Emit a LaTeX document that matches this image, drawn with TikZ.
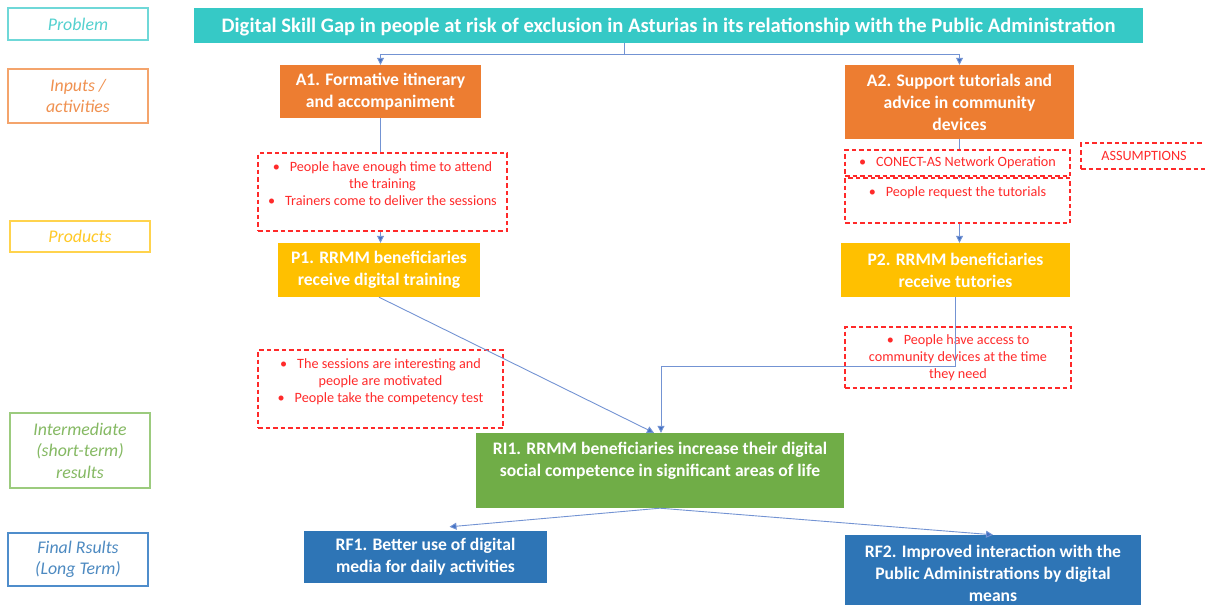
\documentclass[tikz,border=0pt]{standalone}
\usepackage{fontspec}
\setmainfont{Carlito}
\usepackage{xcolor}
\usepackage{tikz}
\usetikzlibrary{arrows.meta}
\usetikzlibrary{positioning}
\definecolor{tealbox}{HTML}{36C9C6}
\definecolor{orangebox}{HTML}{ED7D31}
\definecolor{goldbox}{HTML}{FFC000}
\definecolor{greenbox}{HTML}{70AD47}
\definecolor{bluebox}{HTML}{2E75B6}
\definecolor{tealline}{HTML}{6FD8D8}
\definecolor{orangeline}{HTML}{F4A46C}
\definecolor{goldline}{HTML}{FFD34D}
\definecolor{greenline}{HTML}{9CCB7E}
\definecolor{blueline}{HTML}{4F8DCB}
\definecolor{linkblue}{HTML}{7393D3}
\definecolor{tipblue}{HTML}{4472C4}
\definecolor{assumred}{HTML}{FF2A2A}
\tikzset{
level/.style = { rectangle, draw = #1line, line width = 1.3pt, fill = white, text = #1box!85!white, font = \fontsize{17.8}{21.5}\selectfont\itshape, align = center, minimum width = 140pt, inner sep = 0pt },
stage/.style = { rectangle, draw = none, fill = #1box, text = white, font = \fontsize{17.6}{22}\selectfont\bfseries, align = center, inner sep = 0pt },
assumption/.style = { rectangle, draw = assumred, dash pattern = on 4.5pt off 3pt, line width = 1.1pt, fill = white, text = assumred, font = \fontsize{14.2}{17}\selectfont, align = center, inner sep = 0pt },
link/.style = { draw = linkblue, line width = 0.9pt, -{Triangle[width = 7pt, length = 7pt, fill = tipblue]} },
}

\begin{document}
\begin{tikzpicture}[x = 1pt, y = -1pt]
    \useasboundingbox (0, 0) rectangle (1205, 605);
    % levels on the left
    \node[level = teal, minimum height = 32pt] (lproblem) at (78, 24) {Problem};
    \node[level = orange, minimum height = 54pt] (linputs) at (78, 96) {Inputs /\\activities};
    \node[level = gold, minimum height = 31pt] (lproducts) at (80, 236.5) {Products};
    \node[level = green, minimum height = 75pt] (linter) at (80, 450.5) {Intermediate\\(short-term)\\results};
    \node[level = blue, minimum height = 53pt] (lfinal) at (78, 559.5) {Final Rsults\\(Long Term)};
    % main boxes
    \node[stage = teal, minimum width = 949pt, minimum height = 35pt, text depth = 0pt, font = \fontsize{20.6}{22}\selectfont\bfseries] (title) at (668.5, 25.5) {Digital Skill Gap in people at risk of exclusion in Asturias in its relationship with the Public Administration};
    \node[stage = orange, minimum width = 201pt, minimum height = 53pt] (a1) at (380.5, 91.5) {A1. Formative itinerary\\and accompaniment};
    \node[stage = orange, minimum width = 229pt, minimum height = 74pt] (a2) at (959.5, 102) {A2. Support tutorials and\\advice in community\\devices};
    \node[stage = gold, minimum width = 202pt, minimum height = 54pt] (p1) at (379, 270) {P1. RRMM beneficiaries\\receive digital training};
    \node[stage = gold, minimum width = 229pt, minimum height = 54pt] (p2) at (955.5, 270) {P2. RRMM beneficiaries\\receive tutories};
    \node[stage = green, minimum width = 368pt, minimum height = 75pt] (ri1) at (660, 470.5) {RI1. RRMM beneficiaries increase their digital\\social competence in significant areas of life\\~};
    \node[stage = blue, minimum width = 243pt, minimum height = 52pt] (rf1) at (425.5, 557) {RF1. Better use of digital\\media for daily activities};
    \node[stage = blue, minimum width = 296pt, minimum height = 77pt] (rf2) at (993, 573.5) {RF2. Improved interaction with the\\Public Administrations by digital\\means};
    % links from the problem
    \coordinate (split) at (624, 54);
    \draw[link] (title.south -| split) -- (split) -| (a1.north);
    \draw[link] (split) -| (a2.north);
    \draw[link] (a1.south) -- (a1.south |- p1.north);
    \draw[link] (a2.south) -- (a2.south |- p2.north);
    % assumptions
    \node[assumption, minimum width = 249pt, minimum height = 78pt] (asm1) at (382.5, 192) {\textbullet\hspace{0.7em}People have enough time to attend\\the training\\\textbullet\hspace{0.7em}Trainers come to deliver the sessions\\~};
    \node[assumption, minimum width = 225pt, minimum height = 26pt] (asm2) at (957.5, 163) {\textbullet\hspace{0.7em}CONECT-AS Network Operation};
    \node[assumption, minimum width = 225pt, minimum height = 45pt] (asm3) at (957.5, 200.5) {\textbullet\hspace{0.7em}People request the tutorials\\~};
    \node[assumption, minimum width = 126pt, minimum height = 26pt] (asmlabel) at (1144, 156) {ASSUMPTIONS};
    \node[assumption, minimum width = 245pt, minimum height = 78pt] (asm4) at (380.5, 389) {\textbullet\hspace{0.7em}The sessions are interesting and\\people are motivated\\\textbullet\hspace{0.7em}People take the competency test\\~};
    \node[assumption, minimum width = 226pt, minimum height = 61pt] (asm5) at (958, 357.5) {\textbullet\hspace{0.7em}People have access to\\community devices at the time\\they need};
    % links to the results
    \draw[link] (p1.south) -- ([xshift = -6pt]ri1.north);
    \draw[link] (p2.south) -- ++(0, 69) -| ([xshift = 1pt]ri1.north);
    \draw[link] (ri1.south) -- ([xshift = 24pt, yshift = 4pt]rf1.north);
    \draw[link] (ri1.south) -- (rf2.north);
\end{tikzpicture}
\end{document}
